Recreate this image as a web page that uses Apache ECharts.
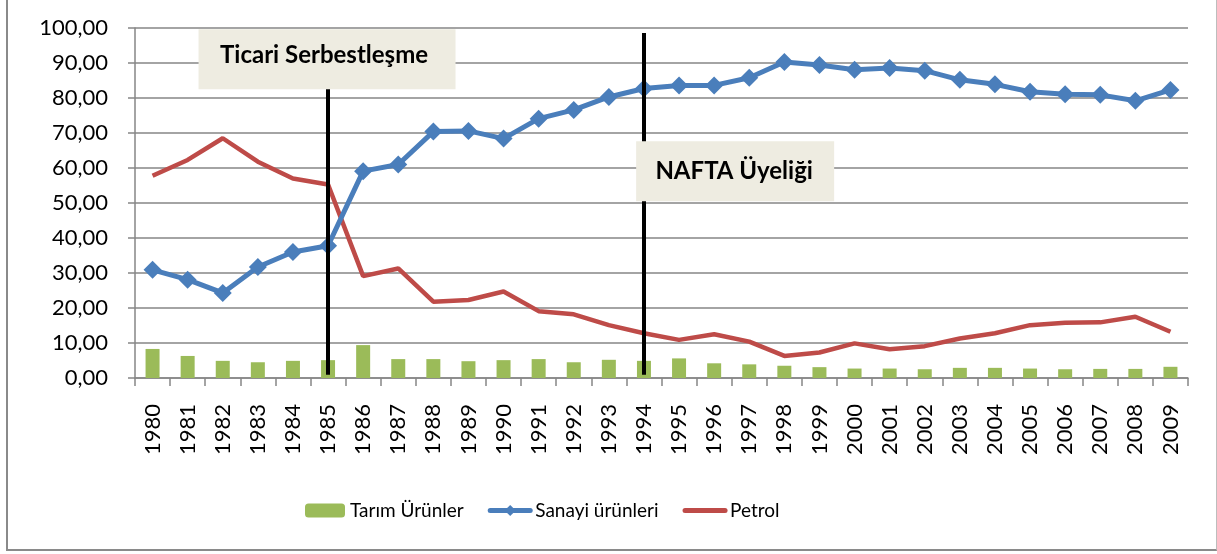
<!DOCTYPE html>
<html>
<head>
<meta charset="utf-8">
<script src="https://cdn.jsdelivr.net/npm/echarts@6/dist/echarts.min.js"></script>
<style>
html,body{margin:0;padding:0;background:#fff;}
#wrap{position:relative;width:1217px;height:554px;overflow:hidden;}
#frame{position:absolute;left:6px;top:-4px;width:1211px;height:555px;border-left:2px solid #8a8a8a;border-bottom:2px solid #8a8a8a;border-right:1px solid #bdbdbd;border-top:1px solid #bdbdbd;box-sizing:border-box;}
#chart{position:absolute;left:0;top:0;width:1217px;height:554px;}
</style>
</head>
<body>
<div id="wrap"><div id="frame"></div><div id="chart"></div></div>
<script>
const years = ['1980','1981','1982','1983','1984','1985','1986','1987','1988','1989','1990','1991','1992','1993','1994','1995','1996','1997','1998','1999','2000','2001','2002','2003','2004','2005','2006','2007','2008','2009'];
const tarim = [8.3,6.3,4.9,4.5,4.9,5.1,9.4,5.4,5.4,4.8,5.1,5.4,4.5,5.2,4.9,5.6,4.2,3.9,3.5,3.1,2.7,2.7,2.5,2.9,2.9,2.7,2.5,2.6,2.6,3.2];
const sanayi = [30.9,28.1,24.3,31.7,36.0,37.8,59.1,61.0,70.4,70.6,68.4,74.1,76.6,80.3,82.7,83.6,83.6,85.8,90.3,89.4,88.1,88.6,87.8,85.2,83.9,81.8,81.1,80.9,79.2,82.3];
const petrol = [57.8,62.3,68.5,61.8,57.0,55.3,29.1,31.3,21.8,22.3,24.7,19.1,18.2,15.1,12.8,10.9,12.5,10.4,6.3,7.3,9.9,8.2,9.1,11.3,12.8,15.1,15.8,15.9,17.5,13.2];
const yTicks = {min:0, max:100, interval:10};
const events = [
  {year:'1985', text:'Ticari Serbestleşme', top:82.6, boxY:91.1},
  {year:'1994', text:'NAFTA Üyeliği', top:98.6, boxY:59.1}
];

const FONT = 'Lato';
const chart = echarts.init(document.getElementById('chart'));
chart.setOption({
  animation:false,
  textStyle:{fontFamily:FONT},
  grid:{left:135, right:29, top:28, bottom:176},
  legend:{
    data:[
      {name:'Tarım Ürünler'},
      {name:'Sanayi ürünleri', lineStyle:{width:5, cap:'round'}},
      {name:'Petrol', lineStyle:{width:5, cap:'round'}, itemStyle:{opacity:0}}
    ],
    left:300, top:496, itemWidth:40, itemHeight:14, itemGap:24,
    textStyle:{fontFamily:FONT, fontSize:19, color:'#000'}
  },
  xAxis:{
    type:'category', data:years, boundaryGap:true,
    axisLine:{lineStyle:{color:'#868686', width:1.5}},
    axisTick:{show:true, length:8, lineStyle:{color:'#868686', width:1.5}},
    axisLabel:{rotate:90, interval:0, margin:26, fontSize:22, color:'#000', fontFamily:FONT}
  },
  yAxis:{
    type:'value', min:yTicks.min, max:yTicks.max, interval:yTicks.interval,
    axisLine:{show:true, lineStyle:{color:'#868686', width:1.5}},
    axisTick:{show:true, length:7, lineStyle:{color:'#868686', width:1.5}},
    splitLine:{lineStyle:{color:'#868686', width:1.5}},
    axisLabel:{margin:27, fontSize:22, color:'#000', fontFamily:FONT,
      formatter:v=>v.toFixed(2).replace('.', ',')}
  },
  series:[
    {name:'Tarım Ürünler', type:'bar', data:tarim, barWidth:14, itemStyle:{color:'#9BBB59'}, z:2},
    {name:'Sanayi ürünleri', type:'line', data:sanayi, symbol:'diamond', symbolSize:18,
      lineStyle:{color:'#4A7EBB', width:5}, itemStyle:{color:'#4A7EBB'}, z:4},
    {name:'Petrol', type:'line', data:petrol, showSymbol:false, symbol:'none',
      lineStyle:{color:'#BE4B48', width:4.5}, itemStyle:{color:'#BE4B48'}, z:3},
    {name:'lines', type:'line', data:[], z:10, silent:true,
      markLine:{silent:true, symbol:['none','none'], label:{show:false},
        lineStyle:{color:'#000', width:4, type:'solid'},
        emphasis:{disabled:true},
        data:events.map(e=>[{coord:[e.year,0.9]},{coord:[e.year,e.top]}])}},
    {name:'boxes', type:'line', data:[], z:12, silent:true,
      markPoint:{silent:true,
        data:[
          {coord:[events[0].year, events[0].boxY], symbol:'rect', symbolSize:[257,60], symbolOffset:[-1,0],
           itemStyle:{color:'#EEECE1'},
           label:{show:true, formatter:events[0].text, color:'#000', fontWeight:'bold', fontSize:24, fontFamily:FONT, offset:[-3,-4]}},
          {coord:['1996', events[1].boxY], symbol:'rect', symbolSize:[198,60], symbolOffset:[21,0],
           itemStyle:{color:'#EEECE1'},
           label:{show:true, formatter:events[1].text, color:'#000', fontWeight:'bold', fontSize:24, fontFamily:FONT, offset:[-1,0]}}
        ]}}
  ]
});
</script>
</body>
</html>
